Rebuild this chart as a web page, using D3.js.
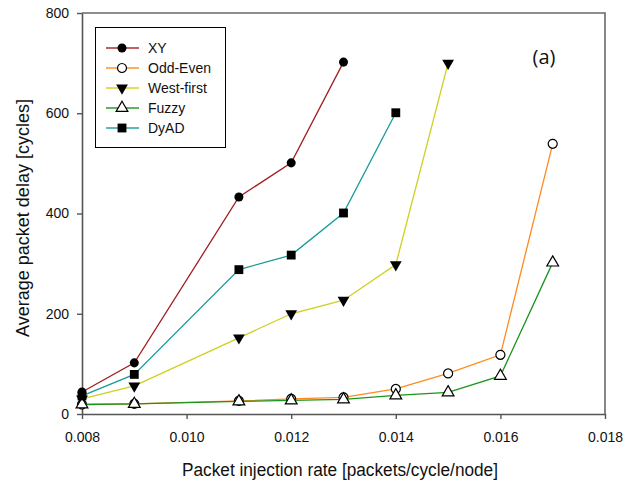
<!DOCTYPE html>
<html>
<head>
<meta charset="utf-8">
<script src="https://cdn.jsdelivr.net/npm/d3@7"></script>
<style>
  body { margin: 0; background: #fff; }
  svg { display: block; font-family: "Liberation Sans", Arial, sans-serif; }
</style>
</head>
<body>
<div id="chart"></div>
<script>
// data
var rates = [0.008, 0.009, 0.011, 0.012, 0.013, 0.014, 0.015, 0.016, 0.017];
var xy_delay = [44, 102, 433, 501, 702];
var odd_even_delay = [19, 20, 26, 30, 33, 50, 81, 118, 539];
var west_first_delay = [30, 56, 152, 200, 227, 298, 700];
var fuzzy_delay = [19, 20, 25, 27, 29, 37, 43, 76, 302];
var dyad_delay = [36, 79, 288, 317, 401, 601];

var series_names = ['XY', 'Odd-Even', 'West-first', 'Fuzzy', 'DyAD'];
var series_values = [xy_delay, odd_even_delay, west_first_delay, fuzzy_delay, dyad_delay];
var colors = ['#a11f1f', '#ff8a1e', '#cfcf1f', '#1b941b', '#1a9a9a'];
var x_ticks = [0.008, 0.010, 0.012, 0.014, 0.016, 0.018];
var y_ticks = [0, 200, 400, 600, 800];

var width = 640;
var height = 485;

var plot_left = 82, plot_right = 605, plot_top = 13, plot_bottom = 414;

var x = d3.scaleLinear().domain([0.008, 0.018]).range([plot_left, plot_right]);
var y = d3.scaleLinear().domain([0, 800]).range([plot_bottom, plot_top]);

var svg = d3.select('#chart')
  .append('svg')
    .attr('width', width)
    .attr('height', height);

// frame (top and right)
svg.append('path')
    .attr('d', 'M' + plot_left + ',' + plot_top + 'H' + plot_right + 'V' + plot_bottom)
    .attr('fill', 'none')
    .attr('stroke', '#6a6a6a')
    .attr('stroke-width', 1.6);

// axes
var x_axis = svg.append('g')
    .attr('transform', 'translate(0,' + plot_bottom + ')')
    .call(d3.axisBottom(x).tickValues(x_ticks).tickSize(5).tickPadding(13)
        .tickFormat(d3.format('.3f')).tickSizeOuter(0));
var y_axis = svg.append('g')
    .attr('transform', 'translate(' + plot_left + ',0)')
    .call(d3.axisLeft(y).tickValues(y_ticks).tickSize(5).tickPadding(8).tickSizeOuter(0));

[x_axis, y_axis].forEach(function(a) {
    a.select('.domain').attr('stroke', '#555').attr('stroke-width', 1.6);
    a.selectAll('.tick line').attr('stroke', '#555').attr('stroke-width', 1.4);
    a.selectAll('.tick text')
        .attr('font-size', '14px')
        .attr('font-family', '"Liberation Sans", Arial, sans-serif')
        .attr('fill', '#111');
});

// axis titles
svg.append('text')
    .attr('x', 340)
    .attr('y', 476)
    .attr('text-anchor', 'middle')
    .attr('font-size', '18px')
    .attr('textLength', 316)
    .attr('lengthAdjust', 'spacingAndGlyphs')
    .attr('fill', '#111')
    .text('Packet injection rate [packets/cycle/node]');

svg.append('text')
    .attr('transform', 'translate(29,218) rotate(-90)')
    .attr('text-anchor', 'middle')
    .attr('font-size', '18px')
    .attr('fill', '#111')
    .text('Average packet delay [cycles]');

// panel tag
svg.append('text')
    .attr('x', 544)
    .attr('y', 64)
    .attr('text-anchor', 'middle')
    .attr('font-size', '20px')
    .attr('font-family', '"Open Sans", sans-serif')
    .attr('fill', '#111')
    .text('(a)');

// marker shapes
var sym_circle = d3.symbol().type(d3.symbolCircle).size(64);
var sym_square = d3.symbol().type(d3.symbolSquare).size(78);
var sym_triangle = d3.symbol().type(d3.symbolTriangle).size(60);

function drawMarker(sel, i) {
    if (i === 0) {
        sel.append('path').attr('d', sym_circle()).attr('fill', '#000');
    } else if (i === 1) {
        sel.append('path').attr('d', sym_circle()).attr('fill', '#fff')
            .attr('stroke', '#000').attr('stroke-width', 1.2);
    } else if (i === 2) {
        sel.append('path').attr('d', sym_triangle()).attr('transform', 'rotate(180)')
            .attr('fill', '#000');
    } else if (i === 3) {
        sel.append('path').attr('d', sym_triangle()).attr('fill', '#fff')
            .attr('stroke', '#000').attr('stroke-width', 1.2);
    } else {
        sel.append('path').attr('d', sym_square()).attr('fill', '#000');
    }
}

var line = d3.line()
    .x(function(d, i) { return x(rates[i]); })
    .y(function(d) { return y(d); });

// series
series_values.forEach(function(vals, s) {
    var g = svg.append('g');
    g.append('path')
        .datum(vals)
        .attr('d', line)
        .attr('fill', 'none')
        .attr('stroke', colors[s])
        .attr('stroke-width', 1.3);
    g.selectAll('g.pt')
        .data(vals)
      .enter()
        .append('g')
        .attr('class', 'pt')
        .attr('transform', function(d, i) {
            return 'translate(' + x(rates[i]) + ',' + y(d) + ')';
        })
        .each(function() { drawMarker(d3.select(this), s); });
});

// legend
var legend = svg.append('g');
legend.append('rect')
    .attr('x', 95.5)
    .attr('y', 27.5)
    .attr('width', 130)
    .attr('height', 120)
    .attr('fill', '#fff')
    .attr('stroke', '#000')
    .attr('stroke-width', 1);

var items = legend.selectAll('g.item')
    .data(series_names)
  .enter()
    .append('g')
    .attr('class', 'item')
    .attr('transform', function(d, i) {
        return 'translate(0,' + (48 + i * 20) + ')';
    });

items.append('line')
    .attr('x1', 106)
    .attr('x2', 139)
    .attr('stroke', function(d, i) { return colors[i]; })
    .attr('stroke-width', 2)
    .attr('stroke-opacity', 0.7);

items.append('g')
    .attr('transform', 'translate(122,0)')
    .each(function(d, i) { drawMarker(d3.select(this), i); });

items.append('text')
    .attr('x', 148)
    .attr('y', 5)
    .attr('font-size', '14px')
    .attr('fill', '#111')
    .text(function(d) { return d; });
</script>
</body>
</html>
